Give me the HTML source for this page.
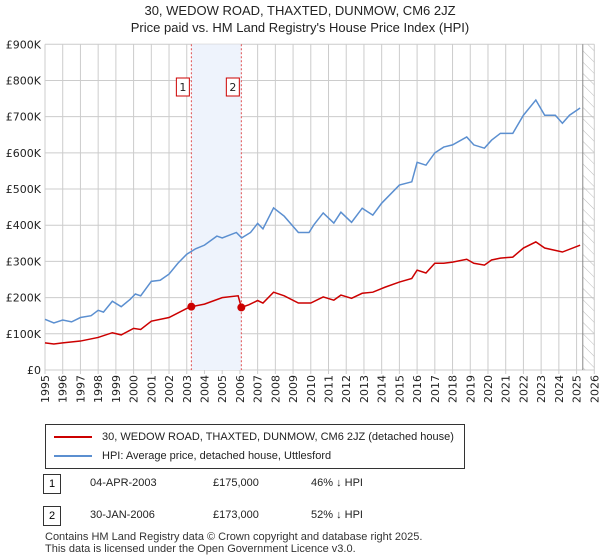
<!DOCTYPE html>
<html><head><meta charset="utf-8"><style>
body{margin:0;width:600px;height:560px;background:#fff;font-family:"Liberation Sans","DejaVu Sans",sans-serif;overflow:hidden;position:relative}
.t{position:absolute;font-size:12px;color:#222}
svg text{font-family:"DejaVu Sans","Liberation Sans",sans-serif}
</style></head><body>
<div class="t" style="left:0;width:600px;text-align:center;top:2px;font-size:13px;line-height:17px">30, WEDOW ROAD, THAXTED, DUNMOW, CM6 2JZ<br>Price paid vs. HM Land Registry's House Price Index (HPI)</div>
<svg id="c" width="600" height="420" style="position:absolute;left:0;top:0"></svg>
<div style="position:absolute;left:45px;top:424px;width:420px;height:45px;border:1px solid #333;box-sizing:border-box">
 <div style="position:absolute;left:8px;top:6px;font-size:11px;color:#222"><span style="display:inline-block;width:38px;height:2px;background:#cc0000;vertical-align:middle;margin-right:10px"></span>30, WEDOW ROAD, THAXTED, DUNMOW, CM6 2JZ (detached house)</div>
 <div style="position:absolute;left:8px;top:25px;font-size:11px;color:#222"><span style="display:inline-block;width:38px;height:2px;background:#5b8fd0;vertical-align:middle;margin-right:10px"></span>HPI: Average price, detached house, Uttlesford</div>
</div>
<div style="position:absolute;left:43px;top:474px;width:16px;height:18px;border:1px solid #333;font-size:11px;text-align:center;line-height:18px">1</div>
<div class="t" style="left:90px;top:477px;font-size:11px">04-APR-2003</div>
<div class="t" style="left:213px;top:477px;font-size:11px">£175,000</div>
<div class="t" style="left:311px;top:477px;font-size:11px">46% ↓ HPI</div>
<div style="position:absolute;left:43px;top:506px;width:16px;height:18px;border:1px solid #333;font-size:11px;text-align:center;line-height:18px">2</div>
<div class="t" style="left:90px;top:509px;font-size:11px">30-JAN-2006</div>
<div class="t" style="left:213px;top:509px;font-size:11px">£173,000</div>
<div class="t" style="left:311px;top:509px;font-size:11px">52% ↓ HPI</div>
<div class="t" style="left:45px;top:531px;font-size:11px;line-height:12px;color:#333">Contains HM Land Registry data © Crown copyright and database right 2025.<br>This data is licensed under the Open Government Licence v3.0.</div>
<script>
const hpiYears=[1995,1995.5,1996,1996.5,1997,1997.6,1998,1998.3,1998.8,1999.3,1999.8,2000.1,2000.4,2001,2001.5,2002,2002.5,2003,2003.5,2004,2004.7,2005,2005.8,2006.1,2006.6,2007,2007.3,2007.9,2008.5,2009.3,2009.9,2010.2,2010.7,2011.3,2011.7,2012.3,2012.9,2013.5,2014,2015,2015.7,2016,2016.5,2017,2017.5,2018,2018.8,2019.2,2019.8,2020.2,2020.7,2021.4,2022,2022.7,2023.2,2023.8,2024.2,2024.6,2025.2];
const hpiValues=[140,130,138,133,145,150,165,160,190,175,195,210,205,245,248,265,295,320,335,345,370,365,380,365,380,405,390,448,425,380,380,403,434,406,436,408,447,428,461,511,520,574,566,600,616,622,644,622,613,635,654,654,704,746,704,704,682,704,724];
const ppYears=[1995,1995.5,1996,1997,1998,1998.8,1999.3,2000,2000.4,2001,2002,2003,2003.26,2004,2005,2005.9,2006.08,2006.5,2007,2007.3,2007.9,2008.5,2009.3,2010,2010.7,2011.3,2011.7,2012.3,2012.9,2013.5,2014.2,2015,2015.7,2016,2016.5,2017,2017.5,2018,2018.8,2019.2,2019.8,2020.2,2020.7,2021.4,2022,2022.7,2023.2,2024.2,2025.2];
const ppValues=[75,72,75,80,90,103,97,115,112,135,145,170,175,182,200,205,173,180,192,185,215,205,185,185,202,193,207,198,212,215,229,243,253,276,268,295,295,298,306,295,290,304,309,312,337,354,337,326,345];
const saleYears=[2003.26,2006.08];
const saleValues=[175,173];
const yTicks=[0,100,200,300,400,500,600,700,800,900];
const yLabels=["£0","£100K","£200K","£300K","£400K","£500K","£600K","£700K","£800K","£900K"];
const xTicks=[];for(let y=1995;y<=2026;y++)xTicks.push(y);
const X0=45,X1=594.3,Y0=370,Y1=44.3;
const sx=y=>X0+(y-1995)/31*(X1-X0);
const sy=v=>Y0-v/900*(Y0-Y1);
const svg=document.getElementById('c');const NS='http://www.w3.org/2000/svg';
function el(t,a,p){const e=document.createElementNS(NS,t);for(const k in a)e.setAttribute(k,a[k]);(p||svg).appendChild(e);return e;}
let g=el('g',{});


let r=el('rect',{x:sx(saleYears[0]),y:Y1,width:sx(saleYears[1])-sx(saleYears[0]),height:Y0-Y1,fill:'#eef3fc'});


xTicks.forEach(y=>{el('line',{x1:sx(y),x2:sx(y),y1:Y1,y2:Y0+4,stroke:'#ccc'},g);
 const t=el('text',{transform:`translate(${sx(y)+4},${Y0+5}) rotate(-90)`,'font-size':11,fill:'#222','text-anchor':'end'});t.textContent=y;
 
 });
yTicks.forEach((v,i)=>{el('line',{x1:X0,x2:X1,y1:sy(v),y2:sy(v),stroke:'#ccc'},g);
 const t=el('text',{x:X0-4,y:sy(v)+4,'font-size':11,fill:'#222','text-anchor':'end'});t.textContent=yLabels[i];
 
 });
const defs=el('defs',{});const pat=el('pattern',{id:'h',width:8,height:8,patternUnits:'userSpaceOnUse',patternTransform:'rotate(-45)'},defs);
el('line',{x1:0,y1:0,x2:0,y2:8,stroke:'#bbb'},pat);
let hz=el('rect',{x:sx(2025.35),y:Y1,width:X1-sx(2025.35),height:Y0-Y1,fill:'url(#h)'});


el('line',{x1:sx(2025.35),x2:sx(2025.35),y1:Y1,y2:Y0,stroke:'#888'});
saleYears.forEach((y,i)=>{el('line',{x1:sx(y),x2:sx(y),y1:Y1,y2:Y0,stroke:'#e05050','stroke-dasharray':'2,2'});
 const b=el('rect',{x:sx(y)-15,y:78,width:13,height:18,fill:'#fff',stroke:'#c00'});
 
 
 const t=el('text',{x:sx(y)-8.5,y:91,'font-size':11,'text-anchor':'middle',fill:'#222'});t.textContent=i+1;});
function line(xs,vs,c,n){const p=el('polyline',{points:xs.map((y,i)=>sx(y)+','+sy(vs[i])).join(' '),fill:'none',stroke:c,'stroke-width':1.5});
 
 }
line(hpiYears,hpiValues,'#5b8fd0','hpi-line');
line(ppYears,ppValues,'#cc0000','price-paid-line');
saleYears.forEach((y,i)=>{const c=el('circle',{cx:sx(y),cy:sy(saleValues[i]),r:4,fill:'#cc0000'});
 
 });
</script>
</body></html>
